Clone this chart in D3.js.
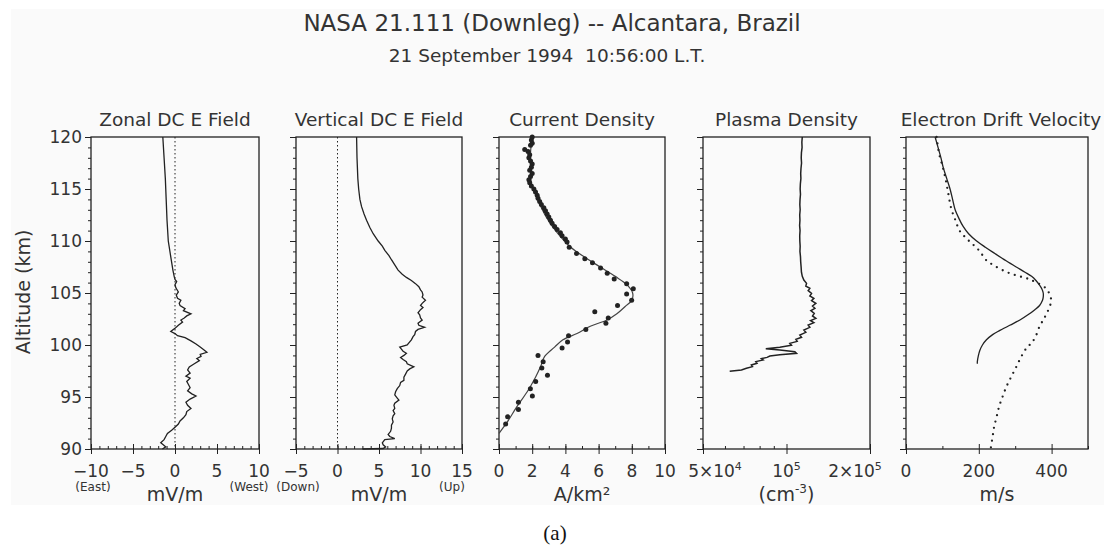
<!DOCTYPE html>
<html>
<head>
<meta charset="utf-8">
<script src="https://cdn.jsdelivr.net/npm/d3@7"></script>
<style>
  body { margin: 0; background: #fff; }
  text { font-family: "DejaVu Sans", Verdana, sans-serif; fill: #333; }
  .tick line { stroke: #222; }
</style>
</head>
<body>
<svg id="chart"></svg>
<script>
// ---- data ----
const mainTitle = 'NASA 21.111 (Downleg) -- Alcantara, Brazil';
const subTitle = '21 September 1994  10:56:00 L.T.';
const panelTitles = ['Zonal DC E Field', 'Vertical DC E Field', 'Current Density', 'Plasma Density', 'Electron Drift Velocity'];
const altitudeTicks = [90, 95, 100, 105, 110, 115, 120];

const zonalTicks = [-10, -5, 0, 5, 10];
const verticalTicks = [-5, 0, 5, 10, 15];
const currentTicks = [0, 2, 4, 6, 8, 10];
const plasmaTicks = [5e4, 1e5, 2e5];
const plasmaMinor = [6e4, 7e4, 8e4, 9e4];
const plasmaTickLabels = [['5×10', '4'], ['10', '5'], ['2×10', '5']];
const driftTicks = [0, 200, 400];
const driftMinor = [100, 300, 500];

// [altitude km, mV/m]
const zonalField = [
  [120, -1.45], [118, -1.3], [116, -1.15], [114, -1.05], [112, -0.95], [110, -0.8], [108.2, -0.45],
  [107.2, -0.25], [106.6, -0.1], [106.3, 0.0], [106.1, 0.2], [105.8, 0.0], [105.5, 0.1], [105.1, 0.4],
  [104.8, 0.15], [104.5, 0.3], [104.3, 0.7], [104.0, 0.5], [103.8, 0.6], [103.5, 1.2], [103.3, 1.0],
  [103.0, 1.9], [102.8, 1.4], [102.6, 1.1], [102.4, 0.7], [102.2, 0.9], [101.9, 0.4], [101.6, 0.0],
  [101.3, -0.5], [101.1, 0.0], [100.9, 0.3], [100.7, 1.2], [100.4, 1.9], [100.1, 2.5], [99.8, 3.0],
  [99.5, 3.5], [99.3, 3.8], [99.1, 3.0], [98.9, 3.1], [98.7, 2.6], [98.5, 2.9], [98.2, 2.3], [97.9, 1.7],
  [97.6, 1.5], [97.3, 1.8], [97.0, 1.3], [96.8, 1.8], [96.5, 1.4], [96.2, 1.6], [95.9, 1.8], [95.6, 1.5],
  [95.3, 2.0], [95.1, 2.5], [94.8, 1.8], [94.5, 1.3], [94.2, 1.5], [93.9, 1.9], [93.6, 1.4], [93.3, 1.3],
  [93.0, 1.0], [92.7, 0.6], [92.4, 0.4], [92.1, 0.0], [91.8, -0.4], [91.5, -0.9], [91.2, -1.1],
  [90.9, -1.3], [90.6, -1.7], [90.4, -1.4], [90.2, -1.1], [90.0, -1.5]
];

// [altitude km, mV/m]
const verticalField = [
  [120, 2.3], [118, 2.35], [116, 2.45], [115, 2.55], [114, 2.7], [113.3, 2.9], [112.6, 3.2], [112, 3.5],
  [111.3, 3.9], [110.7, 4.3], [110, 4.9], [109.5, 5.4], [109.1, 5.7], [108.6, 6.2], [108.2, 6.5],
  [107.7, 6.9], [107.2, 7.3], [106.8, 7.8], [106.5, 8.3], [106.2, 8.9], [105.9, 9.4], [105.6, 9.8],
  [105.3, 10.0], [105.1, 10.2], [104.8, 10.3], [104.6, 10.2], [104.3, 10.6], [104.0, 10.2], [103.8, 10.0],
  [103.6, 10.3], [103.4, 10.0], [103.1, 9.7], [102.9, 9.9], [102.6, 10.0], [102.4, 10.2], [102.1, 9.7],
  [101.9, 9.8], [101.7, 10.5], [101.5, 9.7], [101.3, 9.4], [101.0, 9.3], [100.8, 9.1], [100.5, 8.9],
  [100.3, 8.7], [100.0, 8.4], [99.8, 7.5], [99.6, 7.7], [99.4, 7.9], [99.2, 8.3], [99.0, 8.0], [98.8, 7.6],
  [98.6, 7.9], [98.4, 8.3], [98.2, 8.4], [97.9, 9.2], [97.7, 8.7], [97.5, 8.4], [97.2, 8.2], [96.9, 8.0],
  [96.6, 8.0], [96.4, 7.6], [96.1, 7.5], [95.8, 7.2], [95.5, 7.0], [95.2, 6.9], [94.9, 7.2], [94.7, 7.4],
  [94.4, 6.9], [94.2, 6.8], [93.9, 6.9], [93.7, 6.7], [93.4, 6.9], [93.2, 6.7], [92.9, 6.6], [92.6, 6.7],
  [92.3, 6.5], [92.0, 6.5], [91.7, 6.4], [91.4, 6.1], [91.2, 6.3], [91.0, 6.9], [90.9, 5.7], [90.6, 5.4],
  [90.4, 5.5], [90.2, 5.8], [90.05, 5.5], [90.0, 3.0]
];

// [altitude km, A/km2]
const currentFit = [
  [120, 2.0], [118.5, 1.9], [117, 1.9], [115.5, 1.95], [114.5, 2.2], [113.9, 2.35], [112.3, 2.85],
  [110.7, 3.55], [109.5, 4.25], [108.5, 5.1], [107.5, 6.1], [106.6, 7.0], [105.8, 7.7], [105.0, 8.05],
  [104.3, 8.0], [103.7, 7.6], [103.0, 7.1], [102.4, 6.5], [101.8, 5.5], [101.1, 4.7], [100.5, 3.85],
  [99.8, 3.35], [98.9, 2.75], [97.9, 2.5], [96.9, 2.2], [95.5, 1.7], [94.0, 1.05], [92.6, 0.5], [91.5, 0.0]
];

const currentDots = [
  [120.0, 2.0], [119.7, 1.95], [119.4, 2.0], [119.2, 1.9], [118.8, 1.55], [118.6, 1.75], [118.3, 1.85],
  [118.0, 1.8], [117.7, 1.9], [117.4, 2.0], [117.1, 1.95], [116.8, 1.85], [116.5, 2.0], [116.2, 1.9],
  [115.9, 1.8], [115.6, 1.85], [115.3, 1.95], [115.0, 2.1], [114.7, 2.2], [114.4, 2.3], [114.1, 2.35],
  [113.8, 2.45], [113.5, 2.55], [113.2, 2.7], [112.9, 2.8], [112.6, 2.9], [112.3, 3.0], [112.0, 3.1],
  [111.7, 3.2], [111.4, 3.35], [111.1, 3.5], [110.8, 3.7], [110.5, 3.8], [110.2, 4.0], [109.9, 4.1],
  [109.4, 4.23], [108.8, 4.67], [108.3, 5.17], [107.9, 5.63], [107.4, 6.12], [106.9, 6.52], [106.35, 6.94],
  [105.9, 7.69], [105.4, 8.09], [104.9, 7.69], [104.3, 7.99], [103.8, 7.14], [103.2, 5.77], [102.6, 6.58],
  [102.1, 6.44], [101.5, 5.23], [100.9, 4.19], [100.3, 4.13], [99.7, 3.80], [99.0, 2.35], [98.4, 2.66],
  [97.8, 2.58], [97.1, 2.92], [96.5, 2.21], [95.8, 1.89], [95.1, 2.01], [94.5, 1.17], [93.8, 1.17],
  [93.1, 0.52], [92.4, 0.40]
];

// [altitude km, cm^-3]
const plasmaDensity = [
  [120, 114000], [119.5, 113600], [119, 113800], [118.5, 113200], [118, 113000], [117.5, 113300],
  [117, 112800], [116.5, 112500], [116, 112700], [115.5, 112200], [115, 112000], [114.5, 112300],
  [114, 111900], [113.5, 111700], [113, 112000], [112.5, 111600], [112, 111800], [111.5, 111500],
  [111, 111900], [110.5, 111600], [110, 111700], [109.5, 112000], [109, 111800], [108.5, 112300],
  [108, 112500], [107.5, 112900], [107, 113200], [106.6, 114000],
  [106.25, 115500], [105.93, 118100], [105.67, 117400], [105.45, 121400], [105.22, 119700],
  [104.97, 123100], [104.71, 121400], [104.49, 125500], [104.26, 123100], [104.01, 127600],
  [103.75, 124100], [103.53, 126600], [103.30, 122400], [103.04, 125900], [102.79, 124100],
  [102.56, 127600], [102.34, 122100], [102.15, 125500], [101.92, 119700], [101.70, 121400],
  [101.44, 115500], [101.22, 117400], [100.96, 111700], [100.74, 113300], [100.54, 108100],
  [100.35, 109300], [100.16, 102800], [99.97, 104200], [99.78, 94600], [99.65, 84200],
  [99.52, 94600], [99.36, 107200], [99.20, 108700], [99.07, 94600], [98.94, 87100], [98.81, 85100],
  [98.69, 81200], [98.56, 82400], [98.40, 77500], [98.24, 78300], [98.08, 74700], [97.92, 75400],
  [97.76, 71700], [97.60, 68800], [97.47, 62400]
];

// [altitude km, m/s]
const driftModel = [
  [120, 80], [119, 88], [118, 96], [117.1, 102], [116, 112], [115, 121], [114, 128], [113, 135],
  [112.2, 145], [111.4, 157], [110.7, 172], [110, 194], [109.4, 218], [108.8, 244], [108.1, 275],
  [107.5, 303], [107, 327], [106.6, 345], [106.2, 357], [105.8, 366], [105.4, 373], [105.0, 377],
  [104.6, 377], [104.3, 375], [103.8, 367], [103.4, 354], [102.9, 335], [102.4, 313], [101.9, 285],
  [101.4, 258], [101.0, 238], [100.5, 221], [100.0, 210], [99.5, 203], [99.0, 199], [98.4, 196], [98.2, 196]
];

const driftMeasured = [
  [120.0, 84], [118.4, 91], [117.1, 101], [115.9, 109], [114.6, 116], [113.3, 123], [112.5, 130],
  [111.9, 137], [111.2, 144], [110.7, 153], [110.3, 165], [109.9, 176], [109.5, 189], [109.0, 203],
  [108.2, 219], [107.7, 239], [107.1, 271], [106.7, 302], [106.3, 340], [105.4, 386], [104.8, 395],
  [104.3, 399], [103.7, 395], [103.0, 386], [102.4, 377], [101.8, 367], [100.8, 356], [100.2, 345],
  [99.7, 331], [98.9, 317], [97.9, 303], [97.0, 290], [96.0, 276], [95.0, 265], [94.1, 256],
  [93.1, 249], [92.1, 242], [91.2, 238], [90.1, 233]
];

// ---- layout ----
const svg = d3.select('#chart')
    .attr('width', 1104)
    .attr('height', 549);

const plotTop = 137, plotBottom = 449;
const ink = '#222';

const y = d3.scaleLinear().domain([90, 120]).range([plotBottom, plotTop]);

const panels = [
  { key: 'zonal', left: 91, right: 259, x: d3.scaleLinear().domain([-10, 10]),
    major: zonalTicks, minor: d3.range(-10, 11, 1), unit: 'mV/m', sides: ['(East)', '(West)'], zero: true },
  { key: 'vertical', left: 296, right: 462, x: d3.scaleLinear().domain([-5, 15]),
    major: verticalTicks, minor: d3.range(-5, 16, 1), unit: 'mV/m', sides: ['(Down)', '(Up)'], zero: true },
  { key: 'current', left: 499, right: 665, x: d3.scaleLinear().domain([0, 10]),
    major: currentTicks, minor: d3.range(0, 11, 1), unit: 'A/km²' },
  { key: 'plasma', left: 703, right: 870, x: d3.scaleLog().domain([5e4, 2e5]),
    major: plasmaTicks, minor: plasmaMinor, unit: null },
  { key: 'drift', left: 906, right: 1088, x: d3.scaleLinear().domain([0, 500]),
    major: driftTicks, minor: driftMinor, unit: 'm/s' }
];

// faint grey backdrop of the scanned figure
svg.append('rect')
    .attr('x', 11).attr('y', 9)
    .attr('width', 1093).attr('height', 496)
    .attr('fill', '#fafafa');

svg.append('text')
    .attr('x', 552).attr('y', 31)
    .attr('text-anchor', 'middle')
    .attr('font-size', 23)
    .text(mainTitle);

svg.append('text')
    .attr('x', 547).attr('y', 62)
    .attr('text-anchor', 'middle')
    .attr('font-size', 18.5)
    .style('white-space', 'pre')
    .text(subTitle);

svg.append('text')
    .attr('transform', 'translate(30,292) rotate(-90)')
    .attr('text-anchor', 'middle')
    .attr('font-size', 19)
    .text('Altitude (km)');

const altitudeMinor = d3.range(90, 121, 1);

panels.forEach((p, i) => {
  const x = p.x.range([p.left, p.right]);
  const g = svg.append('g').attr('id', p.key);
  const cx = (p.left + p.right) / 2;

  g.append('text')
      .attr('x', cx + (i === 4 ? 4 : 0)).attr('y', 126)
      .attr('text-anchor', 'middle')
      .attr('font-size', 18.5)
      .text(panelTitles[i]);

  // altitude ticks on the left side of every panel
  g.append('g').attr('transform', `translate(${p.left},0)`)
      .call(d3.axisLeft(y).tickValues(altitudeMinor).tickSize(3).tickFormat(''))
      .call(a => a.select('.domain').remove());
  const yAxis = g.append('g').attr('transform', `translate(${p.left},0)`)
      .call(d3.axisLeft(y).tickValues(altitudeTicks).tickSize(6).tickPadding(3)
          .tickFormat(i === 0 ? d3.format('d') : ''))
      .call(a => a.select('.domain').remove());
  yAxis.attr('font-family', null).attr('font-size', 17);
  yAxis.selectAll('text').style('fill', '#333');

  // bottom ticks: majors cross the axis, minors point inward
  g.append('g').attr('transform', `translate(0,${plotBottom})`)
      .call(d3.axisBottom(x).tickValues(p.minor).tickSize(-3).tickFormat(''))
      .call(a => a.select('.domain').remove());
  g.append('g').attr('transform', `translate(0,${plotBottom})`)
      .call(d3.axisBottom(x).tickValues(p.major).tickSize(-5).tickFormat(''))
      .call(a => a.select('.domain').remove());
  g.append('g').attr('transform', `translate(0,${plotBottom})`)
      .call(d3.axisBottom(x).tickValues(p.major).tickSize(5).tickFormat(''))
      .call(a => a.select('.domain').remove());

  // tick labels
  if (p.key === 'plasma') {
    const shift = [12, 0, -15];
    p.major.forEach((v, j) => {
      const t = g.append('text')
          .attr('x', x(v) + shift[j]).attr('y', 477)
          .attr('text-anchor', 'middle')
          .attr('font-size', 17);
      t.append('tspan').text(plasmaTickLabels[j][0]);
      t.append('tspan').attr('dy', -7).attr('font-size', 11).text(plasmaTickLabels[j][1]);
    });
  } else {
    g.selectAll('text.tickLabel').data(p.major).join('text')
        .attr('class', 'tickLabel')
        .attr('x', d => x(d)).attr('y', 477)
        .attr('text-anchor', 'middle')
        .attr('font-size', 17)
        .text(d3.format('d'));
  }

  // unit label under the axis
  if (p.unit) {
    g.append('text')
        .attr('x', cx).attr('y', 501)
        .attr('text-anchor', 'middle')
        .attr('font-size', 19)
        .text(p.unit);
  } else {
    const t = g.append('text')
        .attr('x', cx).attr('y', 501)
        .attr('text-anchor', 'middle')
        .attr('font-size', 19);
    t.append('tspan').text('(cm');
    t.append('tspan').attr('dy', -8).attr('font-size', 12).text('-3');
    t.append('tspan').attr('dy', 8).text(')');
  }
  if (p.sides) {
    g.append('text').attr('x', p.left + 2).attr('y', 491)
        .attr('text-anchor', 'middle').attr('font-size', 12).text(p.sides[0]);
    g.append('text').attr('x', p.right - 10).attr('y', 491)
        .attr('text-anchor', 'middle').attr('font-size', 12).text(p.sides[1]);
  }

  if (p.zero) {
    g.append('line')
        .attr('x1', x(0)).attr('x2', x(0))
        .attr('y1', plotTop).attr('y2', plotBottom)
        .attr('stroke', ink).attr('stroke-width', 1)
        .attr('stroke-dasharray', '1.5,2.5');
  }

  g.append('rect')
      .attr('x', p.left).attr('y', plotTop)
      .attr('width', p.right - p.left).attr('height', plotBottom - plotTop)
      .attr('fill', 'none')
      .attr('stroke', ink).attr('stroke-width', 1.3);
});

// ---- curves ----
const profile = (p, curve) => d3.line()
    .x(d => p.x(d[1]))
    .y(d => y(d[0]))
    .curve(curve || d3.curveLinear);

const byKey = k => panels.find(p => p.key === k);

svg.append('path').datum(zonalField)
    .attr('d', profile(byKey('zonal')))
    .attr('fill', 'none').attr('stroke', ink).attr('stroke-width', 1.3);

svg.append('path').datum(verticalField)
    .attr('d', profile(byKey('vertical')))
    .attr('fill', 'none').attr('stroke', ink).attr('stroke-width', 1.3);

svg.append('path').datum(currentFit)
    .attr('d', profile(byKey('current'), d3.curveCatmullRom))
    .attr('fill', 'none').attr('stroke', '#444').attr('stroke-width', 1.2);

svg.append('g').selectAll('circle').data(currentDots).join('circle')
    .attr('cx', d => byKey('current').x(d[1]))
    .attr('cy', d => y(d[0]))
    .attr('r', 2.5)
    .attr('fill', ink);

svg.append('path').datum(plasmaDensity)
    .attr('d', profile(byKey('plasma')))
    .attr('fill', 'none').attr('stroke', ink).attr('stroke-width', 1.5);

svg.append('path').datum(driftModel)
    .attr('d', profile(byKey('drift'), d3.curveCatmullRom))
    .attr('fill', 'none').attr('stroke', ink).attr('stroke-width', 1.3);

svg.append('path').datum(driftMeasured)
    .attr('d', profile(byKey('drift'), d3.curveCatmullRom))
    .attr('fill', 'none').attr('stroke', ink).attr('stroke-width', 2.3)
    .attr('stroke-linecap', 'round')
    .attr('stroke-dasharray', '0,6.5');

// figure caption
svg.append('text')
    .attr('x', 555).attr('y', 540)
    .attr('text-anchor', 'middle')
    .attr('font-size', 21)
    .style('font-family', '"Liberation Serif", "Times New Roman", serif')
    .style('fill', '#111')
    .text('(a)');
</script>
</body>
</html>
